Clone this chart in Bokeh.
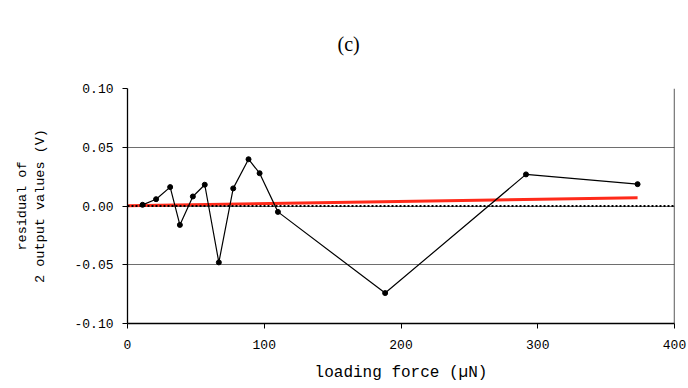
from bokeh.plotting import figure
from bokeh.models import FixedTicker, Range1d, Title, Span
from bokeh.embed import file_html
from bokeh.resources import INLINE

# residuals of the two output values against loading force
force_uN = [11.0, 20.9, 31.2, 38.3, 47.8, 56.5, 66.8, 77.3, 88.5, 96.6, 110.0, 188.4, 291.4, 373.0]
residual_V = [0.0010, 0.0058, 0.0161, -0.0161, 0.0081, 0.0181, -0.0480, 0.0150, 0.0398, 0.0279,
              -0.0050, -0.0741, 0.0269, 0.0186]

# linear trend of the residuals
fit_x = [0.0, 373.0]
fit_y = [0.0003, 0.0070]

x_ticks = [0, 100, 200, 300, 400]
y_ticks = [-0.10, -0.05, 0.00, 0.05, 0.10]
y_tick_labels = {-0.10: "-0.10", -0.05: "-0.05", 0.0: "0.00", 0.05: "0.05", 0.10: "0.10"}

MONO = "Liberation Mono"

p = figure(width=688, height=388, output_backend="svg", toolbar_location=None,
           x_range=Range1d(0, 400), y_range=Range1d(-0.10, 0.10),
           min_border_left=127, min_border_right=14, min_border_top=88, min_border_bottom=65)
p.outline_line_color = None
p.background_fill_color = "white"

# panel tag, shifted right from the frame's left edge to sit over the canvas centre
title = Title(text="(c)", align="left", offset=210, vertical_align="top",
              text_font="Liberation Serif", text_color="black", text_font_size="20px",
              text_font_style="normal", standoff=64)
p.add_layout(title, "above")

p.xgrid.visible = False
p.ygrid.ticker = FixedTicker(ticks=y_ticks)
p.ygrid.grid_line_color = "#6e6e6e"
p.ygrid.grid_line_width = 1

p.xaxis.ticker = FixedTicker(ticks=x_ticks)
p.yaxis.ticker = FixedTicker(ticks=y_ticks)
p.yaxis.major_label_overrides = y_tick_labels
for ax in (p.xaxis[0], p.yaxis[0]):
    ax.axis_line_color = "black"
    ax.axis_line_width = 1.3
    ax.major_tick_line_color = "black"
    ax.major_tick_out = 5
    ax.major_tick_in = 0
    ax.minor_tick_line_color = None
    ax.major_label_text_font = MONO
    ax.major_label_text_font_size = "13px"
    ax.major_label_text_color = "black"
    ax.axis_label_text_font = MONO
    ax.axis_label_text_font_style = "normal"
    ax.axis_label_text_color = "black"

p.xaxis.axis_label = "loading force (\u00b5N)"
p.xaxis.axis_label_text_font_size = "16px"
p.xaxis.major_label_standoff = 11
p.xaxis.axis_label_standoff = 12
p.yaxis.axis_label = "residual of\n2 output values (V)"
p.yaxis.axis_label_text_font_size = "13.5px"
p.yaxis.major_label_standoff = 9
p.yaxis.axis_label_standoff = 23

# right frame edge
p.add_layout(Span(location=400, dimension="height", line_color="black", line_width=1.3))

# zero reference
p.add_layout(Span(location=0, dimension="width", line_color="black",
                  line_width=2, line_dash="2 2"))

p.line(fit_x, fit_y, line_color="#ff2a1a", line_width=3)
p.line(force_uN, residual_V, line_color="black", line_width=1.2)
p.scatter(force_uN, residual_V, size=5, color="black")

open("out.html", "w").write(file_html(p, INLINE))
